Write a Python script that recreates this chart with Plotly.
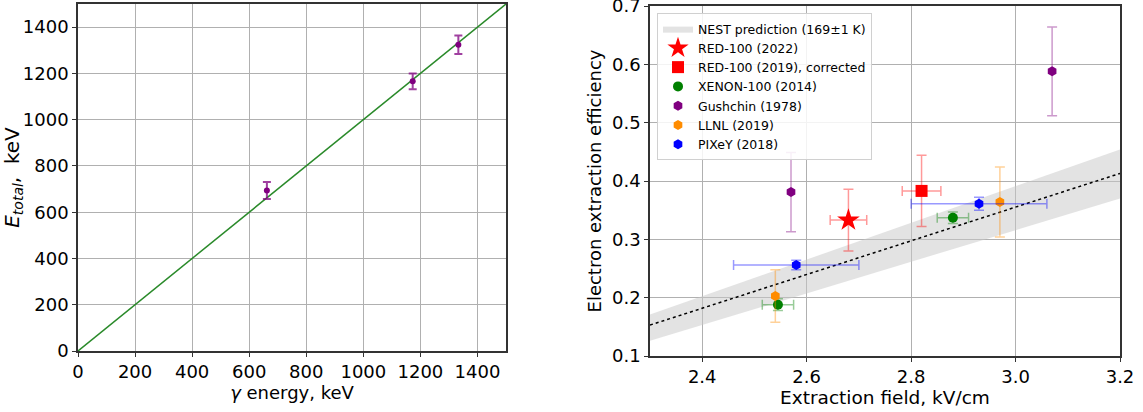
import plotly.graph_objects as go

# ---------- Left panel data ----------
gamma_energy = [662, 1173, 1333]
e_total = [694, 1166, 1324]
e_total_err = [37, 34, 40]
diag_x = [0, 1500]
diag_y = [0, 1500]

# ---------- Right panel data ----------
nest_x = [2.3, 3.2]
nest_mid = [0.153, 0.413]
nest_lo = [0.126, 0.370]
nest_hi = [0.171, 0.454]

red22_x = [2.68]; red22_y = [0.333]; red22_xe = [0.035]; red22_ye = [0.053]
red19_x = [2.82]; red19_y = [0.383]; red19_xe = [0.037]; red19_ye = [0.061]
xenon_x = [2.545, 2.88]; xenon_y = [0.188, 0.337]; xenon_xe = [0.03, 0.03]; xenon_ye = [0.01, 0.01]
gush_x = [2.57, 3.07]; gush_y = [0.381, 0.588]; gush_ye = [0.068, 0.076]
llnl_x = [2.54, 2.97]; llnl_y = [0.203, 0.364]; llnl_ye = [0.045, 0.06]
pixey_x = [2.58, 2.93]; pixey_y = [0.256, 0.361]; pixey_xe = [0.12, 0.13]; pixey_ye = [0.008, 0.011]

FONT = "DejaVu Sans"
fig = go.Figure()

# Left panel
fig.add_trace(go.Scatter(x=diag_x, y=diag_y, mode="lines", line=dict(color="#2a8a2a", width=1.5),
                         showlegend=False, xaxis="x", yaxis="y"))
fig.add_trace(go.Scatter(x=gamma_energy, y=e_total, mode="markers",
                         marker=dict(color="purple", size=6),
                         error_y=dict(type="data", array=e_total_err, color="rgba(128,0,128,0.75)",
                                      thickness=2, width=4),
                         showlegend=False, xaxis="x", yaxis="y"))

# Right panel
fig.add_trace(go.Scatter(x=nest_x, y=nest_lo, mode="lines", line=dict(width=0, color="rgba(0,0,0,0)"),
                         showlegend=False, hoverinfo="skip", xaxis="x2", yaxis="y2"))
fig.add_trace(go.Scatter(x=nest_x, y=nest_hi, mode="lines", line=dict(width=0, color="rgba(0,0,0,0)"),
                         fill="tonexty", fillcolor="rgba(200,200,200,0.5)",
                         name="NEST prediction (169±1 K)", xaxis="x2", yaxis="y2"))
fig.add_trace(go.Scatter(x=nest_x, y=nest_mid, mode="lines", line=dict(color="black", width=1.5, dash="dot"),
                         showlegend=False, xaxis="x2", yaxis="y2"))

def pts(x, y, xe, ye, color, rgba, symbol, size, name):
    kw = {}
    if xe is not None:
        kw["error_x"] = dict(type="data", array=xe, color=rgba, thickness=1.5, width=5)
    if ye is not None:
        kw["error_y"] = dict(type="data", array=ye, color=rgba, thickness=1.5, width=5)
    fig.add_trace(go.Scatter(x=x, y=y, mode="markers", name=name,
                             marker=dict(color=color, symbol=symbol, size=size, line=dict(width=0)),
                             xaxis="x2", yaxis="y2", **kw))

pts(red22_x, red22_y, red22_xe, red22_ye, "red", "rgba(255,0,0,0.4)", "star", 17, "RED-100 (2022)")
pts(red19_x, red19_y, red19_xe, red19_ye, "red", "rgba(255,0,0,0.4)", "square", 12, "RED-100 (2019), corrected")
pts(xenon_x, xenon_y, xenon_xe, xenon_ye, "green", "rgba(0,128,0,0.4)", "circle", 10, "XENON-100 (2014)")
pts(gush_x, gush_y, None, gush_ye, "purple", "rgba(128,0,128,0.4)", "hexagon", 10, "Gushchin (1978)")
pts(llnl_x, llnl_y, None, llnl_ye, "darkorange", "rgba(255,140,0,0.4)", "hexagon", 10, "LLNL (2019)")
pts(pixey_x, pixey_y, pixey_xe, pixey_ye, "blue", "rgba(0,0,255,0.4)", "hexagon", 10, "PIXeY (2018)")

axis_common = dict(showgrid=True, gridcolor="#b0b0b0", gridwidth=1, zeroline=False,
                   showline=True, linecolor="#333", linewidth=1.5, mirror=True,
                   ticks="outside", ticklen=4, tickcolor="#333", automargin=False,
                   ticklabeloverflow="allow",
                   tickfont=dict(family=FONT, size=18, color="black"))

fig.update_layout(
    width=1143, height=412, margin=dict(l=0, r=0, t=0, b=0),
    paper_bgcolor="white", plot_bgcolor="white",
    font=dict(family=FONT, color="black"),
    xaxis=dict(domain=[78/1143, 506/1143], range=[0, 1500], tickvals=list(range(0, 1600, 200)),
               title=dict(text="<i>γ</i> energy, keV", font=dict(size=18), standoff=4),
               anchor="y", **axis_common),
    yaxis=dict(domain=[1-351/412, 1-4/412], range=[0, 1500], tickvals=list(range(0, 1600, 200)),
               title=dict(text="<i>E</i><sub><i>total</i></sub>,  keV", font=dict(size=20), standoff=6),
               anchor="x", **axis_common),
    xaxis2=dict(domain=[650/1143, 1120/1143], range=[2.3, 3.2], tickvals=[2.4, 2.6, 2.8, 3.0, 3.2],
                ticktext=["2.4", "2.6", "2.8", "3.0", "3.2"],
                title=dict(text="Extraction field, kV/cm", font=dict(size=18.5), standoff=4),
                anchor="y2", **axis_common),
    yaxis2=dict(domain=[1-356/412, 1-6/412], range=[0.1, 0.7], tickvals=[0.1, 0.2, 0.3, 0.4, 0.5, 0.6, 0.7],
                ticktext=["0.1", "0.2", "0.3", "0.4", "0.5", "0.6", "0.7"],
                title=dict(text="Electron extraction efficiency", font=dict(size=18), standoff=6),
                anchor="x2", **axis_common),
    legend=dict(x=657/1143, y=1-13/412, xanchor="left", yanchor="top", xref="paper", yref="paper",
                bgcolor="rgba(255,255,255,0.85)", bordercolor="#d0d0d0", borderwidth=1,
                traceorder="normal",
                font=dict(family=FONT, size=12.5), tracegroupgap=0, itemwidth=30),
)

fig.write_html("out.html")
